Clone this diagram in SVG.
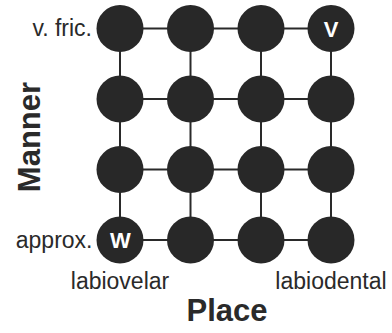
<svg xmlns="http://www.w3.org/2000/svg" width="392" height="333" viewBox="0 0 392 333">
  <style>
    .edge { stroke: #2a2a2a; stroke-width: 2; fill: none; }
    .dot { fill: #282828; }
    .seg { font-family: "Liberation Sans", Arial, sans-serif; font-size: 23px; fill: #2a2a2a; }
    .axis { font-family: "Liberation Sans", Arial, sans-serif; font-size: 31px; font-weight: bold; fill: #2a2a2a; }
    .tag { font-family: "Liberation Sans", Arial, sans-serif; font-size: 22px; font-weight: bold; fill: #ffffff; text-anchor: middle; }
  </style>

  <!-- grid connectors -->
  <g id="connectors">
    <line class="edge" x1="120" y1="28.5" x2="331" y2="28.5"/>
    <line class="edge" x1="120" y1="99" x2="331" y2="99"/>
    <line class="edge" x1="120" y1="169.5" x2="331" y2="169.5"/>
    <line class="edge" x1="120" y1="240" x2="331" y2="240"/>
    <line class="edge" x1="120" y1="28.5" x2="120" y2="240"/>
    <line class="edge" x1="190.5" y1="28.5" x2="190.5" y2="240"/>
    <line class="edge" x1="261" y1="28.5" x2="261" y2="240"/>
    <line class="edge" x1="331" y1="28.5" x2="331" y2="240"/>
  </g>

  <!-- row 1: voiced fricatives -->
  <g id="n11"><circle class="dot" cx="120" cy="28.5" r="23.5"/></g>
  <g id="n12"><circle class="dot" cx="190.5" cy="28.5" r="23.5"/></g>
  <g id="n13"><circle class="dot" cx="261" cy="28.5" r="23.5"/></g>
  <g id="n14"><circle class="dot" cx="331" cy="28.5" r="23.5"/><text class="tag" x="331" y="36.5">V</text></g>

  <!-- row 2 -->
  <g id="n21"><circle class="dot" cx="120" cy="99" r="23.5"/></g>
  <g id="n22"><circle class="dot" cx="190.5" cy="99" r="23.5"/></g>
  <g id="n23"><circle class="dot" cx="261" cy="99" r="23.5"/></g>
  <g id="n24"><circle class="dot" cx="331" cy="99" r="23.5"/></g>

  <!-- row 3 -->
  <g id="n31"><circle class="dot" cx="120" cy="169.5" r="23.5"/></g>
  <g id="n32"><circle class="dot" cx="190.5" cy="169.5" r="23.5"/></g>
  <g id="n33"><circle class="dot" cx="261" cy="169.5" r="23.5"/></g>
  <g id="n34"><circle class="dot" cx="331" cy="169.5" r="23.5"/></g>

  <!-- row 4: approximants -->
  <g id="n41"><circle class="dot" cx="120" cy="240" r="23.5"/><text class="tag" x="120.5" y="248">W</text></g>
  <g id="n42"><circle class="dot" cx="190.5" cy="240" r="23.5"/></g>
  <g id="n43"><circle class="dot" cx="261" cy="240" r="23.5"/></g>
  <g id="n44"><circle class="dot" cx="331" cy="240" r="23.5"/></g>

  <!-- row and column labels -->
  <g id="labels">
    <text class="seg" x="92" y="36" text-anchor="end">v. fric.</text>
    <text class="seg" x="92.5" y="247.5" text-anchor="end">approx.</text>
    <text class="seg" x="120" y="289" text-anchor="middle">labiovelar</text>
    <text class="seg" x="331" y="289" text-anchor="middle">labiodental</text>
    <text class="axis" x="227" y="321" text-anchor="middle">Place</text>
    <text class="axis" transform="translate(40 137) rotate(-90)" text-anchor="middle">Manner</text>
  </g>
</svg>
